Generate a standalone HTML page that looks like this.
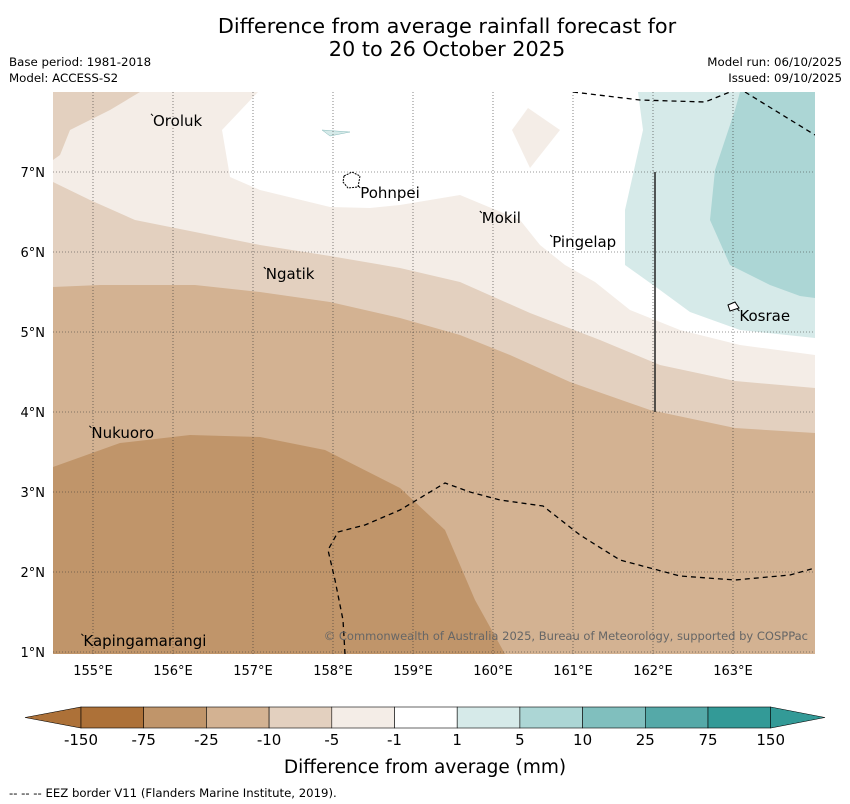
<!DOCTYPE html>
<html><head><meta charset="utf-8"><style>
body{margin:0;background:#fff;font-family:"DejaVu Sans","Liberation Sans",sans-serif;}
svg{display:block}
</style></head><body>
<svg width="850" height="804" viewBox="0 0 850 804" xmlns="http://www.w3.org/2000/svg" font-family="DejaVu Sans, Liberation Sans, sans-serif">
<text x="447" y="33" text-anchor="middle" font-size="20.8">Difference from average rainfall forecast for</text>
<text x="447" y="56" text-anchor="middle" font-size="20.8">20 to 26 October 2025</text>
<text x="9" y="66" font-size="11.8">Base period: 1981-2018</text>
<text x="9" y="82" font-size="11.8">Model: ACCESS-S2</text>
<text x="842" y="66" font-size="11.8" text-anchor="end">Model run: 06/10/2025</text>
<text x="842" y="82" font-size="11.8" text-anchor="end">Issued: 09/10/2025</text>
<defs><clipPath id="mc"><rect x="53" y="92" width="762" height="562"/></clipPath></defs>
<g clip-path="url(#mc)">
<rect x="53" y="92" width="762" height="562" fill="#d3b292"/>
<path d="M53,92 L815,92 L815,433 L735,428 L650,410 L570,382 L510,355 L460,335 L400,318 L330,302 L260,292 L195,285 L100,285 L53,287Z" fill="#e3d0bf"/>
<path d="M53,160 L60,155 L70,130 L110,110 L140,92 L815,92 L815,388 L735,381 L660,365 L600,340 L530,313 L460,282 L400,268 L330,256 L260,245 L200,233 L135,220 L90,200 L53,182Z" fill="#f4ede7"/>
<path d="M258,92 L222,130 L230,177 L260,190 L330,207 L370,208 L400,205 L460,195 L520,220 L540,245 L565,265 L595,282 L630,310 L680,330 L740,345 L815,355 L815,92Z" fill="#ffffff"/>
<path d="M528,108 L560,130 L530,168 L512,130Z" fill="#f4ede7"/>
<path d="M638,92 L643,130 L625,210 L625,265 L660,290 L690,312 L740,330 L815,338 L815,92Z" fill="#d6eae9"/>
<path d="M740,92 L735,110 L715,170 L710,220 L730,265 L770,285 L800,296 L815,298 L815,92Z" fill="#acd6d5"/>
<path d="M53,467 L120,443 L190,435 L260,437 L325,450 L400,488 L445,530 L475,600 L505,654 L53,654Z" fill="#c0956a"/>
<path d="M322,130 L350,132 L330,136Z" fill="#d6eae9" stroke="#8bb" stroke-width="0.5"/>
<g id="grid" stroke="#333" stroke-width="0.6" stroke-dasharray="1,2" fill="none"></g>
<line x1="655" y1="172" x2="655" y2="412" stroke="#222" stroke-width="1.5"/>
<g fill="none" stroke="#000" stroke-width="1.3" stroke-dasharray="5,4">
<path d="M573,92 L640,100 L705,102 L735,90"/>
<path d="M745,92 L815,135"/>
<path d="M345,654 L343,620 L335,580 L328,550 L338,532 L365,525 L400,510 L445,483 L470,492 L500,500 L543,506 L580,535 L620,560 L680,576 L735,580 L790,575 L815,568"/>
</g>
<path d="M344,176 L352,172 L360,176 L358,187 L348,188 L343,182Z" fill="#fff" stroke="#000" stroke-width="1" stroke-dasharray="2,1"/>
<path d="M728,305 L735,302 L739,308 L730,311Z" fill="#fff" stroke="#000" stroke-width="1"/>
<g id="places" font-size="15" fill="#000"></g>
<text x="808" y="640" text-anchor="end" font-size="11.5" fill="#666">© Commonwealth of Australia 2025, Bureau of Meteorology, supported by COSPPac</text>
</g>
<g id="ticks" font-size="13" fill="#000"></g>
<g id="cbar"></g>
<text x="425" y="773" text-anchor="middle" font-size="18.5">Difference from average (mm)</text>
<text x="9" y="797" font-size="11.7">--  --  -- EEZ border V11 (Flanders Marine Institute, 2019).</text>
</svg>
<script>
const lonTicks=[155,156,157,158,159,160,161,162,163];
const latTicks=[1,2,3,4,5,6,7];
const placeNames=["Oroluk","Pohnpei","Mokil","Pingelap","Ngatik","Kosrae","Nukuoro","Kapingamarangi"];
const placeLons=[155.75,158.34,159.86,160.74,157.16,163.08,154.98,154.88];
const placeLats=[7.64,6.74,6.425,6.125,5.725,5.2,3.74,1.14];
const cbarLabels=["-150","-75","-25","-10","-5","-1","1","5","10","25","75","150"];
const cbarColors=["#ad7138","#c0956a","#d3b292","#e3d0bf","#f4ede7","#ffffff","#d6eae9","#acd6d5","#80bfbe","#55a9a8","#339a97"];
const NS="http://www.w3.org/2000/svg";
const xS=lon=>93+(lon-155)*80, yS=lat=>172-(lat-7)*80;
function mk(t,a,p){const e=document.createElementNS(NS,t);for(const k in a)e.setAttribute(k,a[k]);p.appendChild(e);return e;}
const grid=document.getElementById('grid'),ticks=document.getElementById('ticks');
lonTicks.forEach(l=>{const x=xS(l);
 const g=mk('line',{x1:x,y1:92,x2:x,y2:654},grid);
 const t=mk('text',{x:x,y:675,'text-anchor':'middle'},ticks);t.textContent=l+'°E';});
latTicks.forEach(l=>{const y=yS(l);
 const g=mk('line',{x1:53,y1:y,x2:815,y2:y},grid);
 const t=mk('text',{x:45,y:y+5,'text-anchor':'end'},ticks);t.textContent=l+'°N';});
const pl=document.getElementById('places');
placeNames.forEach((n,i)=>{const x=xS(placeLons[i]),y=yS(placeLats[i]);
 const d=mk('line',{x1:x-2,y1:y-7,x2:x,y2:y-5,stroke:'#000','stroke-width':1},pl);
 
 const t=mk('text',{x:x,y:y+5},pl);t.textContent=n;});
const cb=document.getElementById('cbar');const x0=81,w=62.7,y0=707,h=21;
const l=mk('polygon',{points:`25,717.5 ${x0},${y0} ${x0},${y0+h}`,fill:cbarColors[0],stroke:'#000','stroke-width':0.6},cb);

for(let i=0;i<cbarLabels.length-1;i++){
 const r=mk('rect',{x:x0+i*w,y:y0,width:w,height:h,fill:cbarColors[i],stroke:'#000','stroke-width':0.6},cb);
 }
const xEnd=x0+w*(cbarLabels.length-1);
const rt=mk('polygon',{points:`${xEnd},${y0} 825,717.5 ${xEnd},${y0+h}`,fill:cbarColors[cbarColors.length-1],stroke:'#000','stroke-width':0.6},cb);

cbarLabels.forEach((s,i)=>{const t=mk('text',{x:x0+i*w,y:745,'text-anchor':'middle','font-size':15},cb);t.textContent=s;
 });
</script>
</body></html>
